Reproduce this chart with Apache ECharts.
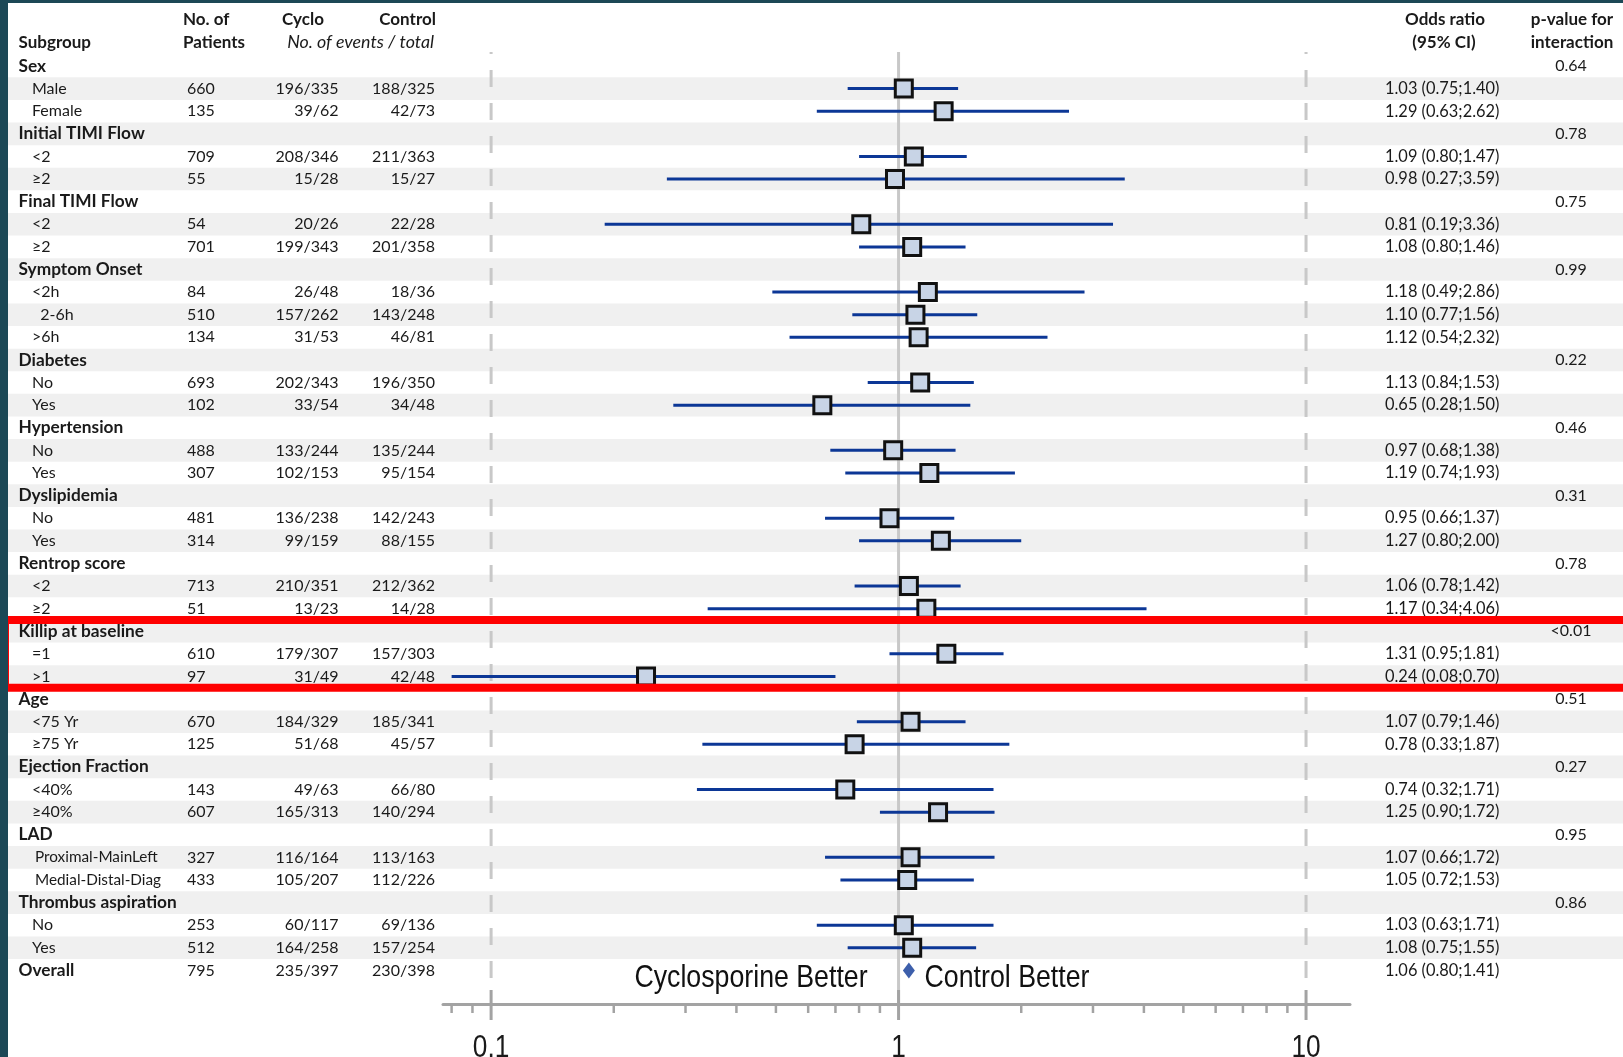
<!DOCTYPE html>
<html><head><meta charset="utf-8">
<script src="https://cdn.jsdelivr.net/npm/echarts@6/dist/echarts.min.js"></script>
<style>html,body{margin:0;padding:0;background:#fff}#c{width:1623px;height:1057px}</style>
</head><body><div id="c"></div><script>
// ---------------- DATA ----------------
const subgroups = ['Sex','Male','Female','Initial TIMI Flow','<2','≥2','Final TIMI Flow','<2','≥2',
  'Symptom Onset','<2h','  2-6h','>6h','Diabetes','No','Yes','Hypertension','No','Yes',
  'Dyslipidemia','No','Yes','Rentrop score','<2','≥2','Killip at baseline','=1','>1',
  'Age','<75 Yr','≥75 Yr','Ejection Fraction','<40%','≥40%','LAD','Proximal-MainLeft','Medial-Distal-Diag',
  'Thrombus aspiration','No','Yes','Overall'];
const patients = ['','660','135','','709','55','','54','701','','84','510','134','','693','102','','488','307',
  '','481','314','','713','51','','610','97','','670','125','','143','607','','327','433','','253','512','795'];
const cycloEvents = ['','196/335','39/62','','208/346','15/28','','20/26','199/343','','26/48','157/262','31/53',
  '','202/343','33/54','','133/244','102/153','','136/238','99/159','','210/351','13/23','','179/307','31/49',
  '','184/329','51/68','','49/63','165/313','','116/164','105/207','','60/117','164/258','235/397'];
const controlEvents = ['','188/325','42/73','','211/363','15/27','','22/28','201/358','','18/36','143/248','46/81',
  '','196/350','34/48','','135/244','95/154','','142/243','88/155','','212/362','14/28','','157/303','42/48',
  '','185/341','45/57','','66/80','140/294','','113/163','112/226','','69/136','157/254','230/398'];
const oddsRatio = [null,1.03,1.29,null,1.09,0.98,null,0.81,1.08,null,1.18,1.10,1.12,null,1.13,0.65,null,0.97,1.19,
  null,0.95,1.27,null,1.06,1.17,null,1.31,0.24,null,1.07,0.78,null,0.74,1.25,null,1.07,1.05,null,1.03,1.08,1.06];
const ciLow = [null,0.75,0.63,null,0.80,0.27,null,0.19,0.80,null,0.49,0.77,0.54,null,0.84,0.28,null,0.68,0.74,
  null,0.66,0.80,null,0.78,0.34,null,0.95,0.08,null,0.79,0.33,null,0.32,0.90,null,0.66,0.72,null,0.63,0.75,0.80];
const ciHigh = [null,1.40,2.62,null,1.47,3.59,null,3.36,1.46,null,2.86,1.56,2.32,null,1.53,1.50,null,1.38,1.93,
  null,1.37,2.00,null,1.42,4.06,null,1.81,0.70,null,1.46,1.87,null,1.71,1.72,null,1.72,1.53,null,1.71,1.55,1.41];
const pInteraction = ['0.64','','','0.78','','','0.75','','','0.99','','','','0.22','','','0.46','','',
  '0.31','','','0.78','','','<0.01','','','0.51','','','0.27','','','0.95','','','0.86','','',''];
const majorTicks = [0.1, 1, 10];
const minorTicks = [0.08,0.09,0.2,0.3,0.4,0.5,0.6,0.7,0.8,0.9,2,3,4,5,6,7,8,9];
const refLines = [0.1, 1, 10];
const highlightRows = [26, 28]; // Killip at baseline block (1-based rows)
const directionLabels = ['Cyclosporine Better', 'Control Better'];

// ---------------- LAYOUT ----------------
const ROW1_Y = 66, PITCH = 22.61, GRID_TOP = 52, AXIS_Y = 1004;
const Y_MIN = 1 - (ROW1_Y - GRID_TOP) / PITCH;
const Y_MAX = 1 + (AXIS_Y - ROW1_Y) / PITCH;
const N = subgroups.length;
const TXT = '#1a1a1a', BLUE = '#0c3796', AXC = '#a3a3a3';

function tableRow(params, api) {
  const i = params.dataIndex;
  const y = api.coord([1, api.value(1)])[1];
  const bold = patients[i] === '' || i === N - 1;
  const small = !bold && subgroups[i].length > 15;
  const t = (text, x, align, extra) => ({type:'text', style: Object.assign({
    text, x, y, align, verticalAlign:'middle', fontFamily:'Lato', fontSize:16, fill:TXT}, extra || {})});
  const kids = [
    t(subgroups[i], bold ? 18.5 : (small ? 35 : 32), 'left', {fontWeight: bold ? 'bold' : 'normal', fontSize: bold ? 17.3 : (small ? 15.3 : 16)}),
    t(patients[i], 187, 'left'),
    t(cycloEvents[i], 338.5, 'right'),
    t(controlEvents[i], 435, 'right'),
    t(pInteraction[i], 1571, 'center')
  ];
  if (oddsRatio[i] != null) {
    kids.push(t(oddsRatio[i].toFixed(2) + ' (' + ciLow[i].toFixed(2) + ';' + ciHigh[i].toFixed(2) + ')', 1385, 'left', {fontSize:16.4}));
  }
  return {type:'group', children:kids};
}

const H = {verticalAlign:'middle', fontFamily:'Lato', fontWeight:'bold', fontSize:17, fill:TXT};
const option = {
  animation: false,
  backgroundColor: '#ffffff',
  grid: {left: 443, top: GRID_TOP, width: 907, height: AXIS_Y - GRID_TOP},
  xAxis: {type:'log', logBase:10, min:0.0762, max:12.82,
    axisLine:{show:true, onZero:false, lineStyle:{color:AXC, width:3}},
    axisTick:{show:false}, axisLabel:{show:false}, splitLine:{show:false}, minorTick:{show:false}},
  yAxis: {type:'value', inverse:true, min:Y_MIN, max:Y_MAX, show:false},
  graphic: [
    {type:'rect', shape:{x:0,y:0,width:8,height:1057}, style:{fill:'#1c4856'}, z:100},
    {type:'rect', shape:{x:0,y:0,width:1623,height:3}, style:{fill:'#1c4856'}, z:100},
    {type:'text', style:Object.assign({text:'No. of', x:183, y:20}, H)},
    {type:'text', style:Object.assign({text:'Patients', x:183, y:42.5}, H)},
    {type:'text', style:Object.assign({text:'Subgroup', x:18.5, y:42.5}, H)},
    {type:'text', style:Object.assign({text:'Cyclo', x:303, y:20, align:'center'}, H)},
    {type:'text', style:Object.assign({text:'Control', x:436, y:20, align:'right'}, H)},
    {type:'text', style:{text:'No. of events / total', x:434, y:42.5, align:'right', verticalAlign:'middle', fontFamily:'Lato', fontStyle:'italic', fontSize:17.8, fill:TXT}},
    {type:'text', style:Object.assign({text:'Odds ratio', x:1445, y:20, align:'center'}, H)},
    {type:'text', style:Object.assign({text:'(95% CI)', x:1444, y:42.5, align:'center'}, H)},
    {type:'text', style:Object.assign({text:'p-value for', x:1572, y:20, align:'center'}, H)},
    {type:'text', style:Object.assign({text:'interaction', x:1572, y:42.5, align:'center'}, H)}
  ],
  series: [
    { // alternating row bands
      type:'custom', clip:false, z:0, silent:true,
      data: subgroups.map((s, i) => [1, i + 1]).filter(d => d[1] % 2 === 0),
      renderItem(params, api) {
        const r = api.value(1);
        const y0 = api.coord([1, r - 0.5])[1], y1 = api.coord([1, r + 0.5])[1];
        return {type:'rect', shape:{x:8, y:Math.min(y0, y1), width:api.getWidth() - 8, height:Math.abs(y1 - y0)}, style:{fill:'#f0f0f0'}};
      }
    },
    { // reference lines
      type:'custom', clip:false, z:1, silent:true,
      data: refLines.map(v => [v, 1]),
      renderItem(params, api) {
        const v = api.value(0);
        const x = api.coord([v, 1])[0];
        const cs = params.coordSys;
        const dashed = v !== 1;
        return {type:'line', shape:{x1:x, y1:cs.y, x2:x, y2: dashed ? cs.y + cs.height - 26 : cs.y + cs.height},
          style:{stroke:'#c8c8c8', lineWidth:3, lineDash: dashed ? [17, 16] : null, lineDashOffset: dashed ? 15 : 0}};
      }
    },
    { // minor ticks
      type:'custom', clip:false, z:2, silent:true,
      data: minorTicks.map(v => [v, 1]),
      renderItem(params, api) {
        const x = api.coord([api.value(0), 1])[0];
        const ay = params.coordSys.y + params.coordSys.height;
        return {type:'line', shape:{x1:x, y1:ay, x2:x, y2:ay + 9}, style:{stroke:AXC, lineWidth:2.5}};
      }
    },
    { // major ticks + labels
      type:'custom', clip:false, z:2, silent:true,
      data: majorTicks.map(v => [v, 1]),
      renderItem(params, api) {
        const v = api.value(0);
        const x = api.coord([v, 1])[0];
        const ay = params.coordSys.y + params.coordSys.height;
        return {type:'group', children:[
          {type:'line', shape:{x1:x, y1:ay - 14, x2:x, y2:ay + 16}, style:{stroke:AXC, lineWidth:3}},
          {type:'text', x:x, y:ay + 44, scaleX:0.82, style:{text:String(v), x:0, y:0, align:'center', verticalAlign:'middle',
            fontFamily:'Liberation Sans', fontSize:32, fill:TXT}}
        ]};
      }
    },
    { // CI lines + squares
      type:'custom', clip:false, z:3, silent:true,
      data: oddsRatio.map((v, i) => (v != null && i < N - 1) ? [v, i + 1, ciLow[i], ciHigh[i]] : null).filter(Boolean),
      encode: {x:0, y:1},
      renderItem(params, api) {
        const row = api.value(1);
        const c = api.coord([api.value(0), row]);
        const lo = api.coord([api.value(2), row]);
        const hi = api.coord([api.value(3), row]);
        return {type:'group', children:[
          {type:'line', shape:{x1:lo[0], y1:c[1], x2:hi[0], y2:c[1]}, style:{stroke:BLUE, lineWidth:3}},
          {type:'rect', shape:{x:c[0] - 8.5, y:c[1] - 8.5, width:17, height:17}, style:{fill:'#c8d4e6', stroke:'#111111', lineWidth:3}}
        ]};
      }
    },
    { // overall estimate
      type:'scatter', z:4, silent:true,
      data: [[oddsRatio[N - 1], N]],
      symbol:'diamond', symbolSize:[12, 16],
      itemStyle:{color:BLUE}
    },
    { // table text
      type:'custom', clip:false, z:4, silent:true,
      data: subgroups.map((s, i) => [1, i + 1]),
      renderItem: tableRow
    },
    { // direction labels
      type:'custom', clip:false, z:4, silent:true,
      data: [[1, N]],
      renderItem(params, api) {
        const p = api.coord([api.value(0), api.value(1)]);
        const base = {verticalAlign:'middle', fontFamily:'Liberation Sans', fontSize:32, fill:'#111111'};
        return {type:'group', children:[
          {type:'text', x:p[0] - 31, y:p[1] + 7.5, scaleX:0.835, style:Object.assign({text:directionLabels[0], x:0, y:0, align:'right'}, base)},
          {type:'text', x:p[0] + 26, y:p[1] + 7.5, scaleX:0.835, style:Object.assign({text:directionLabels[1], x:0, y:0, align:'left'}, base)}
        ]};
      }
    },
    { // highlight box
      type:'custom', clip:false, z:10, silent:true,
      data: [[1, highlightRows[0], highlightRows[1]]],
      renderItem(params, api) {
        const yTop = api.coord([1, api.value(1) - 0.5])[1];
        const yBot = api.coord([1, api.value(2) + 0.5])[1];
        return {type:'rect', shape:{x:5, y:yTop, width:api.getWidth() + 40, height:yBot - yTop},
          style:{fill:null, stroke:'#ff0000', lineWidth:8}};
      }
    }
  ]
};
const chart = echarts.init(document.getElementById('c'), null, {renderer:'canvas', width:1623, height:1057});
chart.setOption(option);
</script></body></html>
